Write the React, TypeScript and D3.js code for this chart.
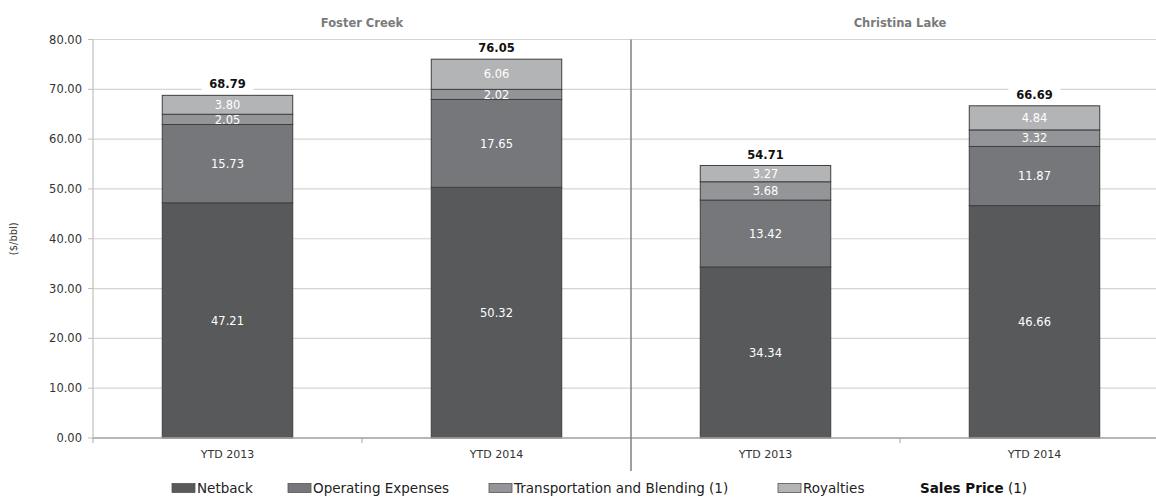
import React from "react";
import * as d3 from "d3";

// Categories and groups
const categories = ["FC-2013", "FC-2014", "CL-2013", "CL-2014"];
const categoryLabels = ["YTD 2013", "YTD 2014", "YTD 2013", "YTD 2014"];
const groups = ["Foster Creek", "Christina Lake"];

// Series values ($/bbl)
const netback = [47.21, 50.32, 34.34, 46.66];
const operatingExpenses = [15.73, 17.65, 13.42, 11.87];
const transportation = [2.05, 2.02, 3.68, 3.32];
const royalties = [3.8, 6.06, 3.27, 4.84];
const salesPrice = [68.79, 76.05, 54.71, 66.69];

const seriesNames = ["Netback", "Operating Expenses", "Transportation and Blending (1)", "Royalties"];
const seriesColors = ["#58595b", "#76777a", "#939598", "#b3b4b6"];
const yTicks = [0, 10, 20, 30, 40, 50, 60, 70, 80];

const W = 1156;
const H = 498;
const FONT = "'DejaVu Sans', Verdana, sans-serif";

export default function App() {
  const x = d3
    .scaleBand<string>()
    .domain(categories)
    .range([93, 1169])
    .paddingInner(0.515)
    .paddingOuter(0.2575);
  const y = d3.scaleLinear().domain([0, 80]).range([438, 39.5]);

  const seriesData = [netback, operatingExpenses, transportation, royalties];
  const rows = categories.map((c, i) => {
    const r: any = { cat: c };
    seriesNames.forEach((s, k) => (r[s] = seriesData[k][i]));
    return r;
  });
  const stacked = d3.stack<any>().keys(seriesNames)(rows);

  const step = x.step();
  const x0 = 93;
  const divider = x0 + 2 * step;

  const legendX = [172, 288, 489, 778];
  const legendY = 488;

  return (
    <svg
      width={W}
      height={H}
      style={{ position: "absolute", left: 0, top: 0, background: "#fff" }}
      fontFamily={FONT}
    >
      <rect width={W} height={H} fill="#fff" />
      {/* gridlines */}
      {yTicks.map((t) => (
        <line key={t} x1={x0} x2={W} y1={y(t)} y2={y(t)} stroke="#d4d4d4" strokeWidth={1.2} />
      ))}
      {/* y axis */}
      <line x1={x0} x2={x0} y1={y(80)} y2={y(0)} stroke="#bfbfbf" strokeWidth={1.2} />
      {yTicks.map((t) => (
        <g key={"yt" + t}>
          <line x1={x0 - 5} x2={x0} y1={y(t)} y2={y(t)} stroke="#bfbfbf" />
          <text x={82} y={y(t)} dy="0.35em" textAnchor="end" fontSize={11.5} fill="#333">
            {d3.format(".2f")(t)}
          </text>
        </g>
      ))}
      <text
        transform={`translate(17,${(y(0) + y(80)) / 2}) rotate(-90)`}
        textAnchor="middle"
        fontSize={10}
        fill="#333"
      >
        ($/bbl)
      </text>

      {/* stacked bars */}
      {stacked.map((layer, k) =>
        layer.map((d, i) => {
          const bx = x(categories[i])!;
          const bw = x.bandwidth();
          const yTop = y(d[1]);
          const yBot = y(d[0]);
          return (
            <g key={k + "-" + i}>
              <rect
                x={bx}
                y={yTop}
                width={bw}
                height={yBot - yTop}
                fill={seriesColors[k]}
                stroke="#3f3f3f"
                strokeWidth={1}
              />
              <text
                x={bx + bw / 2}
                y={(yTop + yBot) / 2}
                dy="0.36em"
                textAnchor="middle"
                fontSize={11.5}
                fill="#fff"
              >
                {d3.format(".2f")(seriesData[k][i])}
              </text>
            </g>
          );
        })
      )}

      {/* x axis */}
      <line x1={x0} x2={W} y1={y(0)} y2={y(0)} stroke="#a6a6a6" strokeWidth={1.5} />
      {[0, 1, 3, 4].map((j) => (
        <line key={"xt" + j} x1={x0 + j * step} x2={x0 + j * step} y1={y(0)} y2={y(0) + 5} stroke="#a6a6a6" />
      ))}
      {categories.map((c, i) => (
        <text
          key={"xl" + c}
          x={x(c)! + x.bandwidth() / 2}
          y={454}
          dy="0.35em"
          textAnchor="middle"
          fontSize={11}
          fill="#333"
        >
          {categoryLabels[i]}
        </text>
      ))}

      {/* total labels */}
      {categories.map((c, i) => {
        const cx = x(c)! + x.bandwidth() / 2;
        const ty = y(salesPrice[i]) - 11;
        return (
          <g key={"tot" + c}>
            <rect x={cx - 26} y={ty - 8} width={52} height={16} fill="#fff" />
            <text x={cx} y={ty} dy="0.36em" textAnchor="middle" fontSize={11.5} fontWeight="bold" fill="#111">
              {d3.format(".2f")(salesPrice[i])}
            </text>
          </g>
        );
      })}

      {/* group divider and titles */}
      <line x1={divider} x2={divider} y1={y(80)} y2={471} stroke="#7f7f7f" strokeWidth={1.5} />
      {groups.map((g, gi) => (
        <text
          key={g}
          x={x0 + step * (2 * gi + 1)}
          y={23}
          dy="0.35em"
          textAnchor="middle"
          fontSize={11.5}
          fontWeight="bold"
          fill="#7a7a7a"
        >
          {g}
        </text>
      ))}

      {/* legend */}
      {seriesNames.map((name, k) => (
        <g key={name}>
          <rect x={legendX[k]} y={legendY - 4.5} width={23} height={9} fill={seriesColors[k]} stroke="#555" strokeWidth={0.8} />
          <text x={legendX[k] + 25} y={legendY} dy="0.36em" fontSize={13.5} fill="#222">
            {name}
          </text>
        </g>
      ))}
      <text x={920} y={legendY} dy="0.36em" fontSize={13.5} fill="#111">
        <tspan fontWeight="bold">Sales Price</tspan>
        <tspan> (1)</tspan>
      </text>
    </svg>
  );
}
